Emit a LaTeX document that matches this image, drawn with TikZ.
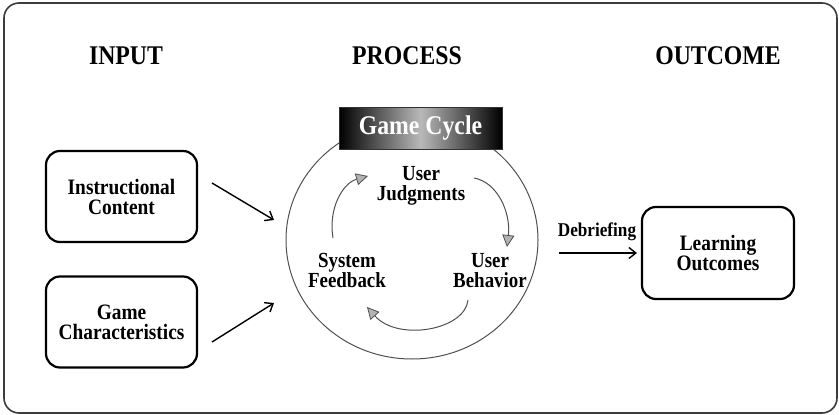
\documentclass[tikz,border=0pt]{standalone}
\usepackage{fontspec}
\setmainfont[FakeStretch=0.88]{Liberation Serif}
\usetikzlibrary{arrows.meta,shapes.geometric}
\definecolor{framegray}{RGB}{60,60,60}
\definecolor{cyclegray}{RGB}{80,80,80}
\tikzset{
  header/.style={font=\bfseries\fontsize{27}{30}\selectfont},
  boxtext/.style={font=\bfseries\fontsize{22}{20}\selectfont, align=center},
  cycletext/.style={font=\bfseries\fontsize{21.5}{20}\selectfont, align=center, inner sep=0pt},
  roundbox/.style={draw=black, line width=2.2pt, rounded corners=14pt, minimum width=151pt, minimum height=91pt, boxtext, inner sep=0pt},
  bigarrow/.style={draw=black, line width=1.4pt, -{Straight Barb[length=7pt,width=11pt,line width=1.4pt]}},
  cyclearrow/.style={draw=cyclegray, line width=1pt, -{Triangle[length=12pt,width=12pt,fill=gray!60,line width=0.8pt]}},
}
\begin{document}
\begin{tikzpicture}[x=1pt,y=-1pt]
\useasboundingbox (0,0) rectangle (839,415);
\draw[framegray, line width=1.6pt, rounded corners=15pt] (4,3) rectangle (837,413);

\node[header] (hin) at (126,56) {INPUT};
\node[header] (hproc) at (407,56) {PROCESS};
\node[header] (hout) at (718,56) {OUTCOME};

\node[roundbox] (ic) at (121.5,196.5) {Instructional\\Content};
\node[roundbox] (gch) at (121.5,322) {Game\\Characteristics};
\node[roundbox, minimum width=152pt, minimum height=92pt] (lo) at (718,253) {Learning\\Outcomes};

\node[ellipse, draw=cyclegray, line width=1pt, minimum width=252pt, minimum height=238pt, inner sep=0pt] (circ) at (412,240) {};

\node[minimum width=163pt, minimum height=42pt, inner sep=0pt,
      left color=black, right color=black, middle color=gray!55, draw=gray!40!black, line width=0.6pt,
      text=white, font=\bfseries\fontsize{27}{30}\selectfont] (gc) at (420.5,128) {Game Cycle};

\node[cycletext] (uj) at (421,186) {User\\Judgments};
\node[cycletext] (sf) at (347,270) {System\\Feedback};
\node[cycletext] (ub) at (490,271) {User\\Behavior};

% cycle arrows
\coordinate (c1s) at (333,238);
\coordinate (c1e) at (368,176);
\coordinate (c2s) at (474,178);
\coordinate (c2e) at (507,247);
\coordinate (c3s) at (468,300);
\coordinate (c3e) at (367,307);
\draw[cyclearrow] (c1s) .. controls (328,208) and (343,183) .. (c1e);
\draw[cyclearrow] (c2s) .. controls (497,182) and (511,212) .. (c2e);
\draw[cyclearrow] (c3s) .. controls (465,330) and (398,342) .. (c3e);

% input arrows
\coordinate (a1s) at (212,183);
\coordinate (a1e) at (274,220);
\coordinate (a2s) at (212,342);
\coordinate (a2e) at (274,303);
\draw[bigarrow] (a1s) -- (a1e);
\draw[bigarrow] (a2s) -- (a2e);

% debriefing
\coordinate (ds) at (559,253);
\coordinate (de) at (637,253);
\draw[bigarrow] (ds) -- (de);
\node[font=\bfseries\fontsize{19.5}{20}\selectfont] (deb) at (597,232) {Debriefing};
\end{tikzpicture}
\end{document}
